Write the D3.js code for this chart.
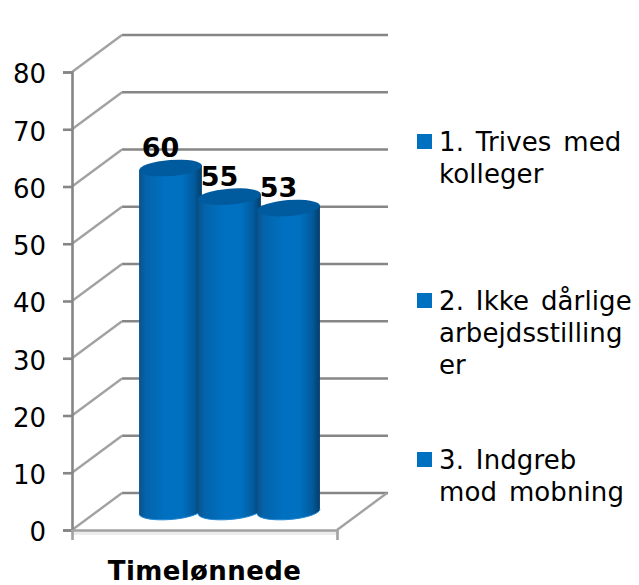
<!DOCTYPE html>
<html>
<head>
<meta charset="utf-8">
<script src="https://cdnjs.cloudflare.com/ajax/libs/d3/7.8.5/d3.min.js"></script>
<style>
  html, body { margin: 0; padding: 0; background: #fff; }
  svg { display: block; }
  text { font-family: "DejaVu Sans", Verdana, sans-serif; fill: #000; }
</style>
</head>
<body>
<div id="chart"></div>
<script>
var categories = ["Timelønnede"];
var seriesNames = ["1. Trives med kolleger", "2. Ikke dårlige arbejdsstillinger", "3. Indgreb mod mobning"];
var seriesValues = [60, 55, 53];
var yTicks = [0, 10, 20, 30, 40, 50, 60, 70, 80];
var legendLines = [["1. Trives med", "kolleger"], ["2. Ikke dårlige", "arbejdsstilling", "er"], ["3. Indgreb", "mod mobning"]];

var width = 639, height = 585;
var depthX = 50, depthY = 37;   // offset of the back wall
var grey = "#868686";

var svg = d3.select("#chart").append("svg")
    .attr("width", width)
    .attr("height", height);

var y = d3.scaleLinear().domain([0, 80]).range([530, 72]);
var x0 = d3.scaleBand().domain(categories).range([72, 337]);
var x1 = d3.scaleBand().domain(seriesNames).range([72, 337]).paddingInner(0).paddingOuter(0.745);

var defs = svg.append("defs");
var grad = defs.append("linearGradient").attr("id", "cyl");
[[0, "#0a5288"], [0.1, "#0463aa"], [0.4, "#0070c0"], [0.68, "#0070c0"], [0.88, "#025a9c"], [1, "#043d69"]].forEach(function(s) {
  grad.append("stop").attr("offset", s[0]).attr("stop-color", s[1]);
});

// floor shading just under the front edge
svg.append("line")
    .attr("x1", 72).attr("x2", 337)
    .attr("y1", y(0) + 3).attr("y2", y(0) + 3)
    .attr("stroke", "#ececec").attr("stroke-width", 4);

// walls: back gridlines and the slanted lines on the side wall
var grid = svg.append("g");
grid.selectAll(".back").data(yTicks).enter().append("line")
    .attr("x1", 72 + depthX).attr("x2", 337 + depthX + 1)
    .attr("y1", function(d) { return y(d) - depthY; })
    .attr("y2", function(d) { return y(d) - depthY; })
    .attr("stroke", grey).attr("stroke-width", 2.6);
grid.selectAll(".side").data(yTicks).enter().append("line")
    .attr("x1", 72).attr("x2", 72 + depthX)
    .attr("y1", function(d) { return y(d); })
    .attr("y2", function(d) { return y(d) - depthY; })
    .attr("stroke", "#a2a2a2").attr("stroke-width", 2.4);
grid.append("line")
    .attr("x1", 337).attr("x2", 337 + depthX)
    .attr("y1", y(0)).attr("y2", y(0) - depthY)
    .attr("stroke", "#a2a2a2").attr("stroke-width", 2.4);

// axes
var yAxis = svg.append("g").attr("transform", "translate(72,0)")
    .call(d3.axisLeft(y).tickValues(yTicks).tickSize(9).tickPadding(17));
var xAxis = svg.append("g").attr("transform", "translate(0," + y(0) + ")")
    .call(d3.axisBottom(x0).tickSize(0).tickSizeOuter(10).tickPadding(32));
yAxis.selectAll("path,line").attr("stroke", grey).attr("stroke-width", 2.6);
xAxis.selectAll("path,line").attr("stroke", "#a2a2a2").attr("stroke-width", 2.6);
yAxis.selectAll("text").style("font-size", "26px").attr("dy", "0.42em");
xAxis.selectAll("text").style("font-size", "26px").style("font-weight", "bold").style("letter-spacing", "0.4px");

// cylinders, later ones overlap the earlier ones
var rx = x1.bandwidth() / 2 + 2, ry = 8, tilt = 4.5;
var dx = rx * Math.cos(tilt * Math.PI / 180), dy = rx * Math.sin(tilt * Math.PI / 180);
function cx(name) { return x1(name) + x1.bandwidth() / 2 + depthX / 2; }

var bars = svg.append("g").selectAll("g")
    .data(seriesValues)
    .enter().append("g");

bars.append("path")
    .attr("fill", "url(#cyl)")
    .attr("d", function(d, i) {
      var c = cx(seriesNames[i]), top = y(d) - depthY / 2, bot = y(0) - depthY / 2;
      return "M" + (c - dx) + "," + (top + dy) +
        "L" + (c - dx) + "," + (bot + dy) +
        "A" + rx + "," + ry + " " + (-tilt) + " 0 0 " + (c + dx) + "," + (bot - dy) +
        "L" + (c + dx) + "," + (top - dy) + "Z";
    });
bars.append("path")
    .attr("fill", "none").attr("stroke", "#1f86d2").attr("stroke-width", 1)
    .attr("d", function(d, i) {
      var c = cx(seriesNames[i]), bot = y(0) - depthY / 2;
      return "M" + (c - dx) + "," + (bot + dy) +
        "A" + rx + "," + ry + " " + (-tilt) + " 0 0 " + (c + dx) + "," + (bot - dy);
    });
bars.append("ellipse")
    .attr("fill", "#005a9e")
    .attr("rx", rx).attr("ry", ry)
    .attr("transform", function(d, i) {
      return "translate(" + cx(seriesNames[i]) + "," + (y(d) - depthY / 2) + ") rotate(" + (-tilt) + ")";
    });

// value labels
svg.append("g").selectAll("text")
    .data(seriesValues)
    .enter().append("text")
    .attr("x", function(d, i) { return cx(seriesNames[i]) - 10; })
    .attr("y", function(d) { return y(d) - depthY / 2 - 11; })
    .attr("text-anchor", "middle")
    .style("font-size", "27px").style("font-weight", "bold")
    .text(function(d) { return d; });

// legend
var legendTop = d3.scalePoint().domain(seriesNames).range([134, 452]);
var legend = svg.append("g").selectAll("g")
    .data(seriesNames)
    .enter().append("g")
    .attr("transform", function(d) { return "translate(417," + legendTop(d) + ")"; });
legend.append("rect").attr("width", 15).attr("height", 15).attr("fill", "#0070c0");
legend.each(function(d, i) {
  d3.select(this).selectAll("text").data(legendLines[i]).enter().append("text")
      .attr("x", 22)
      .attr("y", function(t, j) { return 17 + j * 32; })
      .style("font-size", "26px")
      .style("word-spacing", "3.5px")
      .style("letter-spacing", "0.1px")
      .text(function(t) { return t; });
});
</script>
</body>
</html>
